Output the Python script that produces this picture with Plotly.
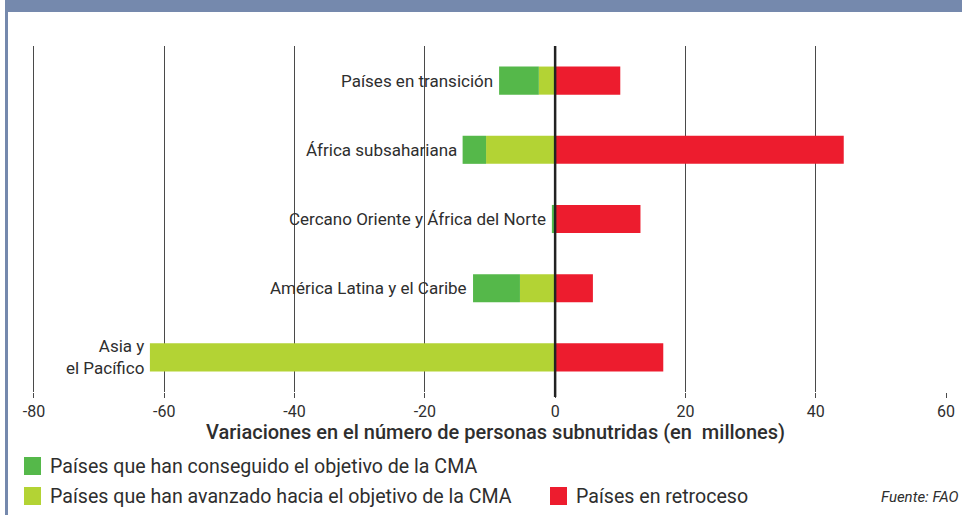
import plotly.graph_objects as go

# data (millions of undernourished people, change)
regions = ['Países en transición', 'África subsahariana', 'Cercano Oriente y África del Norte',
           'América Latina y el Caribe', 'Asia y<br>el Pacífico']
advanced = [-2.5, -10.6, 0.0, -5.4, -62.2]     # light green
achieved = [-6.1, -3.6, -0.5, -7.2, 0.0]       # green
setback = [10.0, 44.3, 13.1, 5.8, 16.6]        # red
x_ticks = [-80, -60, -40, -20, 0, 20, 40, 60]
x_tick_text = ['-80', '-60', '-40', '-20', '0', '20', '40', '60']

GREEN = '#55B84A'
LIGHT = '#B3D334'
RED = '#ED1C2E'
TXT = '#2e2e2e'
FONT = 'Roboto'

fig = go.Figure()
fig.add_trace(go.Bar(y=regions, x=advanced, orientation='h', marker_color=LIGHT,
                     marker_line_width=0, name='Países que han avanzado hacia el objetivo de la CMA'))
fig.add_trace(go.Bar(y=regions, x=achieved, orientation='h', marker_color=GREEN,
                     marker_line_width=0, name='Países que han conseguido el objetivo de la CMA'))
fig.add_trace(go.Bar(y=regions, x=setback, orientation='h', marker_color=RED,
                     marker_line_width=0, name='Países en retroceso'))

annotations = []
# category labels left of each bar
for reg, a, b in zip(regions, advanced, achieved):
    annotations.append(dict(x=a + b, y=reg, xref='x', yref='y', text=reg, showarrow=False,
                            xanchor='right', align='right', xshift=-4,
                            font=dict(family=FONT, size=17, color=TXT)))

# axis title
annotations.append(dict(x=0, xref='x', y=0, yref='paper', yanchor='middle', yshift=-40, xshift=-60,
                        text='Variaciones en el número de personas subnutridas (en  millones)',
                        showarrow=False, font=dict(family=FONT, size=20, color=TXT, weight=500)))

# legend (manual)
legend_items = [
    (GREEN, 'Países que han conseguido el objetivo de la CMA', 24, 466),
    (LIGHT, 'Países que han avanzado hacia el objetivo de la CMA', 24, 496),
    (RED, 'Países en retroceso', 550, 496),
]
PL, PB = 31, 392  # plot-area left / bottom in pixels
shapes = []
for col, label, px, py in legend_items:
    shapes.append(dict(type='rect', xref='paper', yref='paper', xsizemode='pixel', ysizemode='pixel',
                       xanchor=0, yanchor=0, x0=px - PL, x1=px - PL + 17,
                       y0=PB - py - 9, y1=PB - py + 9, fillcolor=col, line_width=0))
    annotations.append(dict(x=0, xref='paper', y=0, yref='paper', xanchor='left', yanchor='middle',
                            xshift=px - PL + 24, yshift=PB - py, text=label, showarrow=False,
                            font=dict(family=FONT, size=19.6, color=TXT)))

annotations.append(dict(x=1, xref='paper', y=0, yref='paper', xanchor='right', yanchor='middle',
                        xshift=14, yshift=PB - 497, text='<i>Fuente: FAO</i>', showarrow=False,
                        font=dict(family=FONT, size=15, color=TXT)))

# header bar and left border
shapes.append(dict(type='rect', xref='paper', yref='paper', xsizemode='pixel', ysizemode='pixel',
                   xanchor=0, yanchor=1, x0=5 - PL, x1=962 - PL, y0=34, y1=47,
                   fillcolor='#7589AD', line_width=0))
shapes.append(dict(type='rect', xref='paper', yref='paper', xsizemode='pixel', ysizemode='pixel',
                   xanchor=0, yanchor=1, x0=5 - PL, x1=8 - PL, y0=47, y1=-480,
                   fillcolor='#7589AD', line_width=0))
# zero line above bars
shapes.append(dict(type='line', xref='x', yref='paper', ysizemode='pixel', yanchor=0,
                   x0=0, x1=0, y0=-5, y1=346, line=dict(color='#222222', width=2.5), layer='above'))

fig.update_layout(
    width=962, height=515,
    margin=dict(l=PL, r=15, t=46, b=515 - PB),
    paper_bgcolor='white', plot_bgcolor='white',
    barmode='relative', bargap=0.594, showlegend=False,
    font=dict(family=FONT, color=TXT),
    xaxis=dict(range=[-80.45, 60.15], tickvals=x_ticks, ticktext=x_tick_text, showgrid=True,
               gridcolor='#4a4a4a', gridwidth=1, zeroline=False, ticks='outside', ticklen=5,
               tickcolor='#4a4a4a', showline=False, automargin=False,
               tickfont=dict(family=FONT, size=16, color=TXT), fixedrange=True),
    yaxis=dict(autorange='reversed', showticklabels=False, showgrid=False, zeroline=False,
               showline=False, ticks='', automargin=False),
    annotations=annotations,
    shapes=shapes,
)

fig.write_html('out.html', config={'displayModeBar': False},
               post_script="document.body.style.margin='0';")
